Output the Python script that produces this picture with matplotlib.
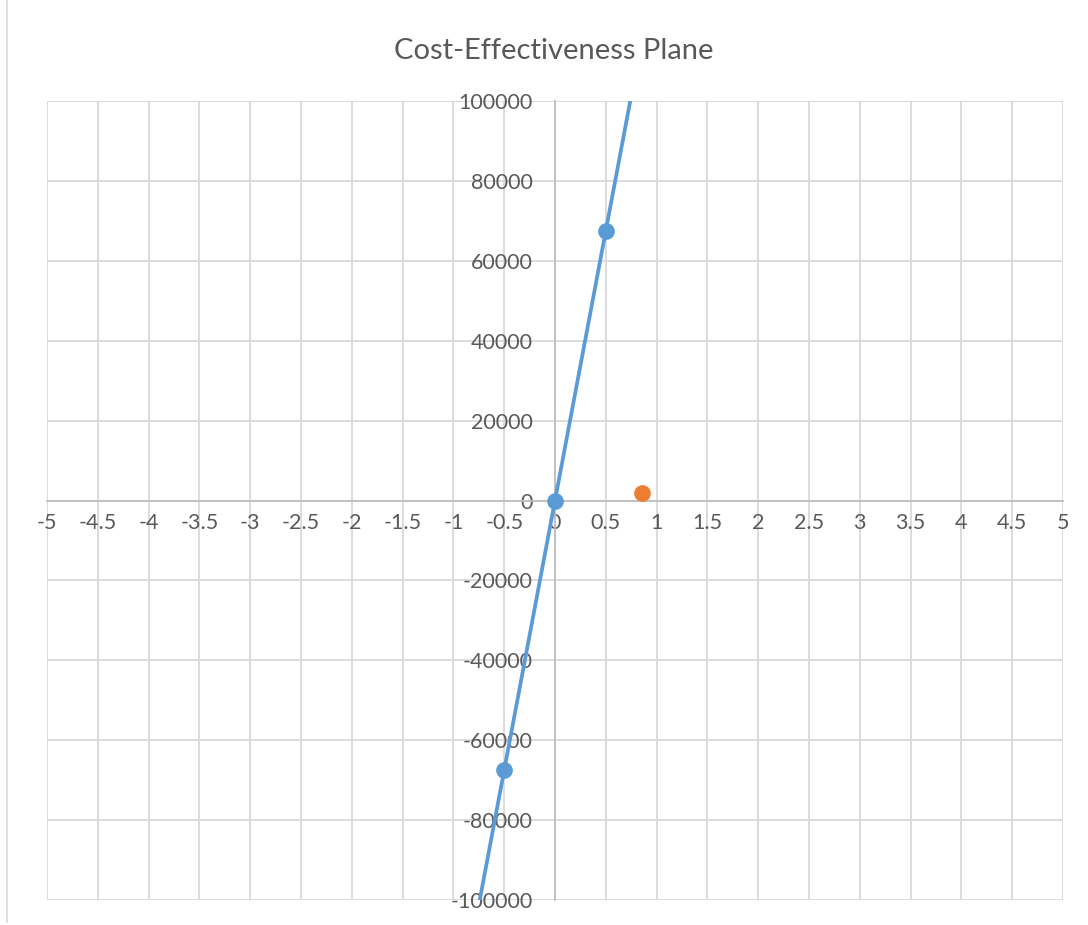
import matplotlib
matplotlib.use("Agg")
import matplotlib.pyplot as plt
from matplotlib.lines import Line2D

# incremental effect vs incremental cost (threshold line)
line_x = [-1, -0.5, 0, 0.5, 1]
line_y = [-135000, -67500, 0, 67500, 135000]
point_x = [0.86]
point_y = [1900]

x_ticks = [-5, -4.5, -4, -3.5, -3, -2.5, -2, -1.5, -1, -0.5, 0, 0.5, 1, 1.5, 2, 2.5, 3, 3.5, 4, 4.5, 5]
y_ticks = [-100000, -80000, -60000, -40000, -20000, 0, 20000, 40000, 60000, 80000, 100000]

plt.rcParams['font.family'] = ['Lato', 'DejaVu Sans']

fig = plt.figure(figsize=(10.88, 9.25), dpi=100)
ax = fig.add_axes([0.0432, 0.027, 0.9338, 0.8638])

ax.plot(line_x, line_y, color='#5b9bd5', lw=2.7, marker='o', markersize=11,
        markevery=[1, 2, 3], zorder=3)
ax.plot(point_x, point_y, 'o', color='#ed7d31', markersize=11, zorder=4)

ax.set_xlim(-5, 5)
ax.set_ylim(-100000, 100000)
ax.set_xticks(x_ticks)
ax.set_yticks(y_ticks)
ax.set_xticklabels([('%g' % v) for v in x_ticks])
ax.set_yticklabels([str(v) for v in y_ticks])
ax.grid(True, color='#d9d9d9', lw=1.3, zorder=0)
ax.set_axisbelow(True)

for s in ['top', 'right']:
    ax.spines[s].set_visible(False)
ax.spines['left'].set_position(('data', 0))
ax.spines['bottom'].set_position(('data', 0))
ax.spines['left'].set_color('#bfbfbf')
ax.spines['bottom'].set_color('#bfbfbf')
ax.spines['left'].set_linewidth(1.3)
ax.spines['bottom'].set_linewidth(1.3)
ax.tick_params(axis='both', length=0, labelsize=15.5, labelcolor='#595959')
ax.tick_params(axis='x', pad=9)
ax.tick_params(axis='y', pad=16)

fig.text(0.509, 0.945, 'Cost-Effectiveness Plane', ha='center', va='center',
         fontsize=21, color='#595959')

# chart area border on the left
fig.add_artist(Line2D([7 / 1088, 7 / 1088], [0.003, 1.0], color='#d9d9d9', lw=1.2,
                      transform=fig.transFigure))

fig.savefig('out.png', dpi=100)
